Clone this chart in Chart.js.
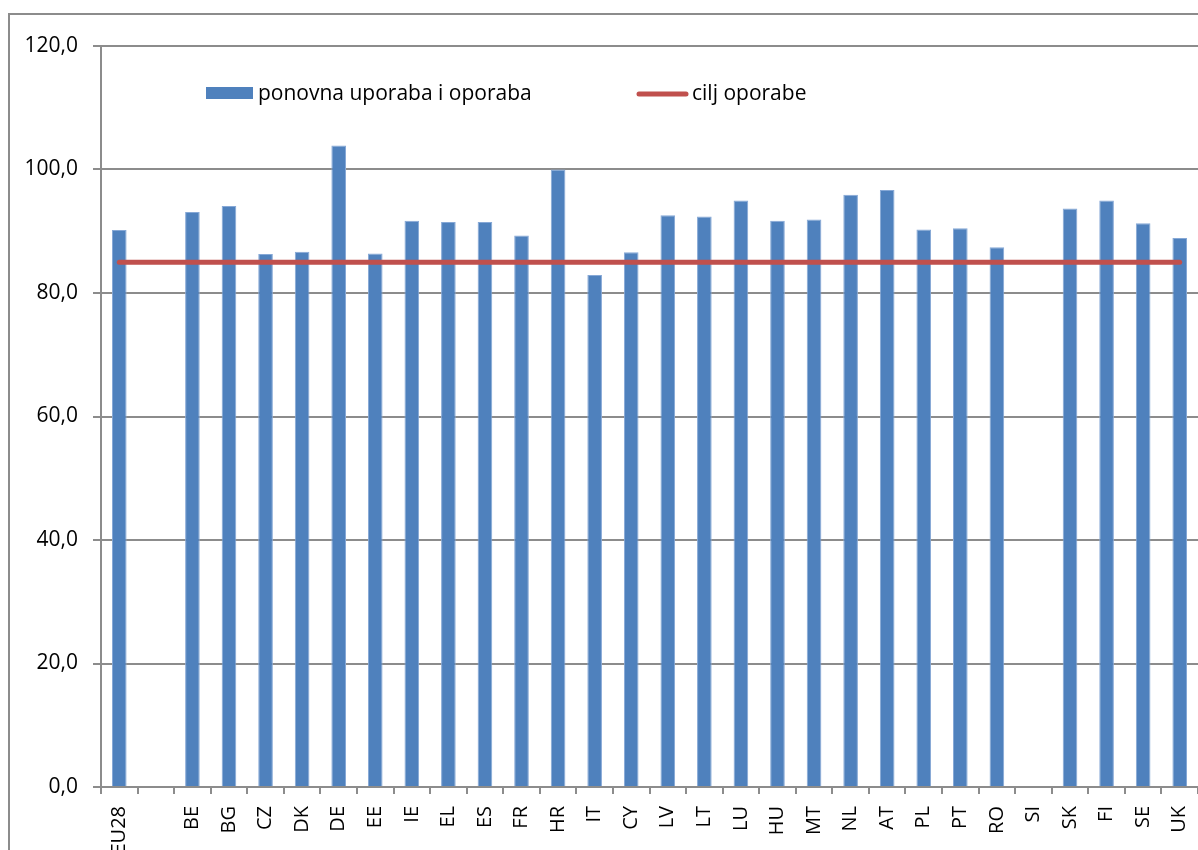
<!DOCTYPE html>
<html>
<head>
<meta charset="utf-8">
<script src="https://cdn.jsdelivr.net/npm/chart.js@4/dist/chart.umd.min.js"></script>
<style>
  html, body { margin: 0; padding: 0; background: #ffffff; overflow: hidden; }
  #wrap { position: relative; width: 1198px; height: 850px; }
</style>
</head>
<body>
<div id="wrap"><canvas id="c" width="1198" height="850"></canvas></div>
<script>
const categories = ['EU28','','BE','BG','CZ','DK','DE','EE','IE','EL','ES','FR','HR','IT','CY','LV','LT','LU','HU','MT','NL','AT','PL','PT','RO','SI','SK','FI','SE','UK'];
const reuseRecovery = [90.2,null,93.1,94.1,86.3,86.7,103.9,86.4,91.7,91.5,91.5,89.3,100.0,82.9,86.6,92.6,92.4,95.0,91.7,91.9,95.9,96.7,90.3,90.5,87.4,null,93.7,95.0,91.3,88.9];
const recoveryTarget = [85,85,85,85,85,85,85,85,85,85,85,85,85,85,85,85,85,85,85,85,85,85,85,85,85,85,85,85,85,85];
const yTickLabels = ['0,0','20,0','40,0','60,0','80,0','100,0','120,0'];
const seriesNames = ['ponovna uporaba i oporaba', 'cilj oporabe'];

const FONT = '"Open Sans", "Liberation Sans", sans-serif';
const GRID = '#8c8c8c';

const frameAndLegend = {
  id: 'frameAndLegend',
  beforeDraw(chart) {
    const ctx = chart.ctx;
    ctx.save();
    ctx.fillStyle = '#ffffff';
    ctx.fillRect(0, 0, chart.width, chart.height);
    ctx.strokeStyle = GRID;
    ctx.lineWidth = 2;
    ctx.strokeRect(9, 14, 1400, 1000);
    ctx.restore();
  },
  afterDraw(chart) {
    const ctx = chart.ctx;
    ctx.save();
    ctx.fillStyle = '#4F81BD';
    ctx.fillRect(206, 87, 47, 12);
    ctx.fillStyle = '#000000';
    ctx.font = '21px ' + FONT;
    ctx.textBaseline = 'middle';
    ctx.textAlign = 'left';
    ctx.fillText(seriesNames[0], 258, 94);
    ctx.strokeStyle = '#C0504D';
    ctx.lineWidth = 5;
    ctx.lineCap = 'round';
    ctx.beginPath();
    ctx.moveTo(639, 94);
    ctx.lineTo(686, 94);
    ctx.stroke();
    ctx.fillText(seriesNames[1], 692, 94);
    ctx.restore();
  }
};

new Chart(document.getElementById('c'), {
  type: 'bar',
  data: {
    labels: categories,
    datasets: [
      {
        type: 'line',
        label: seriesNames[1],
        data: recoveryTarget,
        borderColor: '#C0504D',
        borderWidth: 5,
        borderCapStyle: 'round',
        pointRadius: 0,
        fill: false,
        order: 0
      },
      {
        type: 'bar',
        label: seriesNames[0],
        data: reuseRecovery,
        backgroundColor: '#4F81BD',
        borderColor: '#86A8D6',
        borderWidth: 1,
        barPercentage: 0.4,
        categoryPercentage: 1.0,
        order: 1
      }
    ]
  },
  options: {
    responsive: false,
    animation: false,
    devicePixelRatio: 1,
    layout: { padding: { top: 46, left: 0, right: 0, bottom: 0 } },
    plugins: {
      legend: { display: false },
      tooltip: { enabled: false },
      title: { display: false }
    },
    scales: {
      x: {
        offset: true,
        afterFit(scale) { scale.height = 63; scale.paddingRight = 0; scale.paddingLeft = 0; },
        border: { display: true, color: GRID, width: 2 },
        grid: {
          display: true,
          offset: true,
          drawOnChartArea: false,
          drawTicks: true,
          tickLength: 7,
          color: GRID,
          lineWidth: 2
        },
        ticks: {
          autoSkip: false,
          maxRotation: 90,
          minRotation: 90,
          padding: 12,
          color: '#000000',
          font: { family: FONT, size: 20 }
        }
      },
      y: {
        min: 0,
        max: 120,
        afterFit(scale) { scale.width = 101; },
        border: { display: true, color: GRID, width: 2 },
        grid: {
          color: GRID,
          lineWidth: 2,
          drawTicks: true,
          tickLength: 8
        },
        ticks: {
          stepSize: 20,
          padding: 15,
          color: '#000000',
          font: { family: FONT, size: 21 },
          callback: (v) => yTickLabels[Math.round(v / 20)]
        }
      }
    }
  },
  plugins: [frameAndLegend]
});
</script>
</body>
</html>
